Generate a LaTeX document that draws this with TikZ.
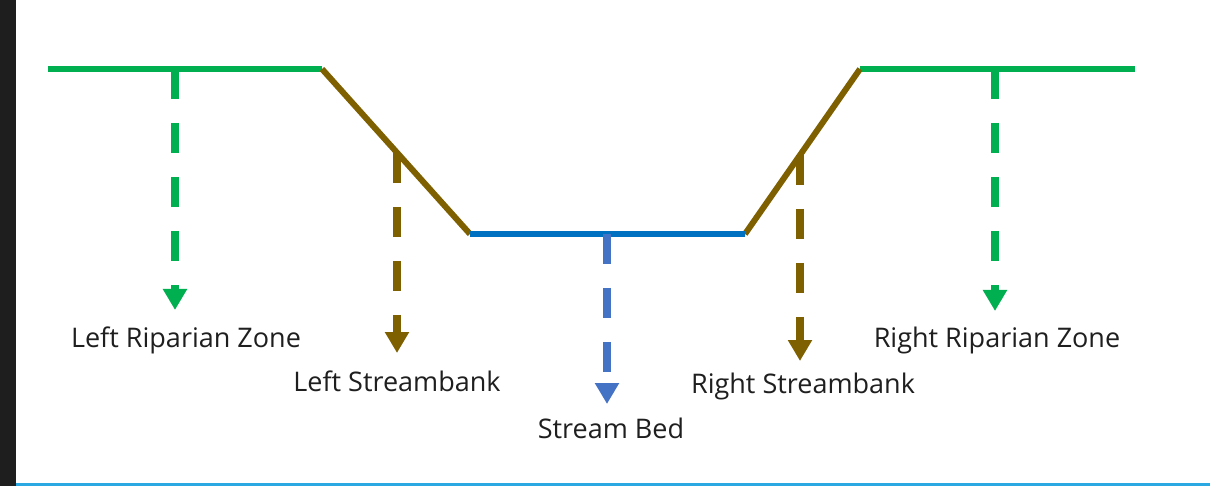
\documentclass[tikz,border=0pt]{standalone}
\usepackage{fontspec}
\setmainfont{Open Sans}
\usetikzlibrary{arrows.meta}
\definecolor{rgreen}{HTML}{00B050}
\definecolor{rbrown}{HTML}{7F6000}
\definecolor{rblue}{HTML}{0070C0}
\definecolor{rblued}{HTML}{4472C4}
\definecolor{frameblue}{HTML}{2AA8E2}
\definecolor{darkstrip}{HTML}{1E1E1E}
\tikzset{
  profile/.style={line width=6pt},
  zonearrow/.style={line width=8pt, dash pattern=on 30pt off 24pt,
     -{Triangle[width=23pt,length=21pt]}},
  lbl/.style={anchor=base, inner sep=0pt, font=\fontsize{27}{30}\selectfont, text=black!88}
}
\begin{document}
\begin{tikzpicture}[x=1pt,y=-1pt]
\useasboundingbox (0,0) rectangle (1210,486);
\fill[white] (0,0) rectangle (1210,486);
\fill[darkstrip] (0,0) rectangle (16,486);
\fill[frameblue] (16,483) rectangle (1210,486);
% profile points
\coordinate (gl0) at (48,69);
\coordinate (gl1) at (322,69);
\coordinate (bl) at (470,234);
\coordinate (br) at (745,234);
\coordinate (gr0) at (860,69);
\coordinate (gr1) at (1135,69);
\draw[profile, rgreen] (gl0) -- (gl1);
\draw[profile, rgreen] (gr0) -- (gr1);
\draw[profile, rbrown] (gl1) -- (bl);
\draw[profile, rbrown] (br) -- (gr0);
\draw[profile, rblue] (bl) -- (br);
% arrow starts and ends
\coordinate (a1s) at (175,69);  \coordinate (a1e) at (175,310);
\coordinate (a2s) at (397,153); \coordinate (a2e) at (397,353);
\coordinate (a3s) at (607,234); \coordinate (a3e) at (607,404);
\coordinate (a4s) at (800,155); \coordinate (a4e) at (800,361);
\coordinate (a5s) at (995,69);  \coordinate (a5e) at (995,311);
\draw[zonearrow, rgreen] (a1s) -- (a1e);
\draw[zonearrow, rbrown] (a2s) -- (a2e);
\draw[zonearrow, rblued] (a3s) -- (a3e);
\draw[zonearrow, rbrown] (a4s) -- (a4e);
\draw[zonearrow, rgreen] (a5s) -- (a5e);
% labels
\node[lbl] (t1) at (186,347) {Left Riparian Zone};
\node[lbl] (t2) at (397,391) {Left Streambank};
\node[lbl] (t3) at (611,438) {Stream Bed};
\node[lbl] (t4) at (803,393) {Right Streambank};
\node[lbl] (t5) at (997,347) {Right Riparian Zone};
\end{tikzpicture}
\end{document}
